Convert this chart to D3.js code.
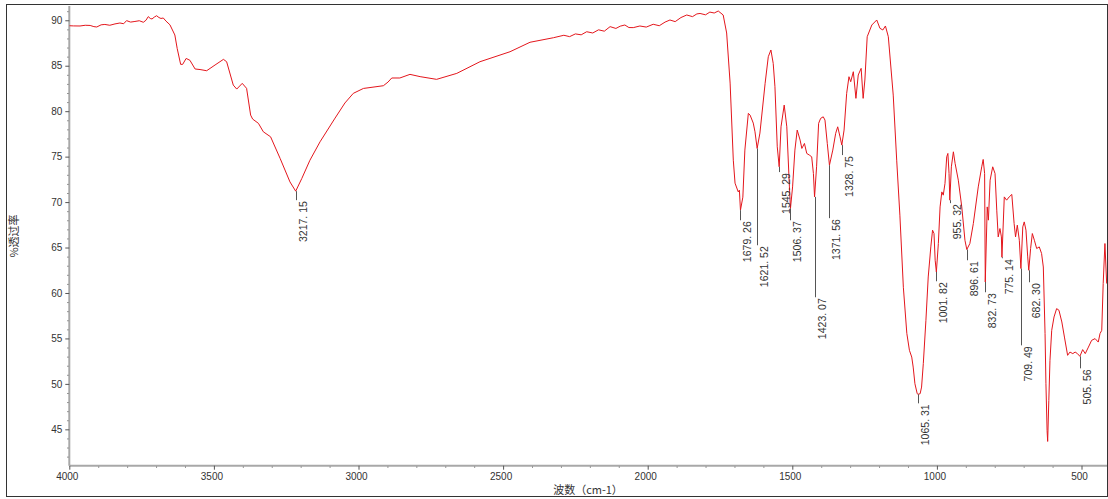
<!DOCTYPE html>
<html><head><meta charset="utf-8">
<script src="https://cdn.jsdelivr.net/npm/d3@7"></script>
<style>
html,body{margin:0;padding:0;background:#fff;}
svg{display:block;}
</style></head>
<body>
<svg id="chart" width="1108" height="499"></svg>
<script>
// ---- data ----
const wavenumber = [
4000,3985,3963,3945,3928,3915,3905,3890,3877,3860,3842,3825,3812,3802,3788,3773,3758,3744,3735,3727,3720,3714,3706,3698,3690,3683,3675,3666,3652,3635,3627,3615,3608,3596,3583,3565,3548,3525,3496,3467,3456,3433,3421,3402,3387,3373,3366,3346,3329,3304,3271,3237,3217.15,3196,3168,3133,3081,3047,3018,2983,2914,2898,2885,2857,2822,2787,2730,2660,2580,2476,2407,2326,2290,2270,2250,2230,2211,2190,2170,2150,2130,2110,2095,2079,2065,2050,2027,2005,1981,1960,1940,1923,1905,1885,1865,1845,1830,1819,1800,1785,1770,1756,1739,
1727,1715,1704,1698,1687,1683,1679.26,1671,1664,1652,1646,1635,1629,1621.52,1612,1594,1583,1574,1566,1560,1552,1545.29,1539,1528,1519,1510,1506.37,1499,1491,1483,1473,1467,1458,1450,1441,1433,1427,1423.07,1416,1409,1402,1393,1387,1379,1371.56,1360,1350,1343,1335,1328.75,1321,1312,1304,1298,1289,1280,1272,1262,1255,1249,1241,1225,1208,1197,1187,1178,1168,1151,1139,1128,1116,1104,1095,1087,1082,1076,1068,1065.31,1058,1053,1047,1038,1030,1021,1015,1010,1006,1001.82,995,989,983,978,972,966,962,958,955.32,950,943,937,926,914,903,896.61,886,874,857,845,840,835,832.73,826,822,816,807,799,793,788,782,777,775.14,767,759,750,741,733,728,722,715,709.49,703,698,692,686,682.30,676,670,663,655,646,638,632,626,623,619,617,613,609,603,595,586,578,568,559,548,540,530,522,514,505.56,496,487,476,465,453,442,436,430,425,419,413
];
const transmittance = [
89.4,89.38,89.37,89.45,89.43,89.3,89.26,89.5,89.54,89.45,89.6,89.7,89.62,89.96,89.8,89.87,89.95,89.78,90.0,90.4,90.2,90.14,90.35,90.5,90.3,90.2,90.25,89.92,89.5,88.38,86.9,85.15,85.15,85.8,85.6,84.64,84.58,84.45,85.08,85.7,85.44,82.87,82.43,83.06,82.51,79.57,79.13,78.66,77.73,77.18,74.8,72.22,71.2,72.6,74.6,76.63,79.24,80.9,81.96,82.5,82.8,83.2,83.65,83.65,84.05,83.8,83.5,84.16,85.44,86.54,87.58,88.08,88.35,88.2,88.5,88.4,88.74,88.6,88.95,88.8,89.3,89.1,89.35,89.48,89.2,89.19,89.37,89.25,89.56,89.4,89.8,90.03,89.85,90.3,90.58,90.4,90.7,90.75,90.6,90.9,90.8,91.02,90.58,
88.6,83.09,74.61,72.08,71.12,71.31,69.11,70.54,75.72,79.76,79.57,78.69,77.73,75.9,77.59,83.06,85.99,86.73,85.26,82.69,76.08,73.88,78.28,80.67,78.28,71.67,69.3,71.67,75.72,77.92,76.82,75.9,76.45,75.35,75.17,74.98,73.15,70.57,73.88,78.66,79.21,79.38,79.02,76.45,74.06,75.72,77.56,78.28,77.18,76.27,77.92,81.96,83.79,83.24,84.34,81.41,83.98,84.71,81.41,83.43,88.19,89.48,90.03,89.12,88.93,89.37,88.19,81.77,74.61,68.56,60.63,55.56,53.69,52.95,51.85,50.02,48.92,48.85,48.92,49.65,52.23,56.99,61.76,65.07,66.91,66.54,63.6,62.31,65.44,69.47,71.12,70.76,72.05,74.98,75.35,73.15,70.21,73.88,75.53,74.25,72.41,69.47,65.8,64.78,65.44,67.64,71.67,73.88,74.69,73.15,61.21,69.47,68.01,72.41,73.88,73.15,69.11,66.17,67.09,66.17,63.93,70.57,70.21,70.57,70.84,67.64,66.17,67.46,65.8,62.69,67.27,67.82,66.91,63.97,62.5,64.89,66.54,65.8,64.89,65.07,64.34,62.86,55.53,50.02,44.88,43.67,48.18,52.59,55.89,57.36,58.28,58.1,56.81,55.15,53.14,53.5,53.33,53.5,53.33,53.03,53.77,53.33,54.05,54.79,54.98,54.6,55.53,55.89,61.04,65.44,61.04
];
const peakLabels = [3217.15,1679.26,1621.52,1545.29,1506.37,1423.07,1371.56,1328.75,1065.31,1001.82,955.32,896.61,832.73,775.14,709.49,682.30,505.56];
const labelEnds  = [70.21,68.0,65.25,73.3,68.0,59.53,68.23,75.17,47.86,61.29,69.88,63.6,60.08,63.82,54.24,61.18,51.71];
const xMajorTicks = [4000,3500,3000,2500,2000,1500,1000,500];
const yMajorTicks = [45,50,55,60,65,70,75,80,85,90];
const xTitle = "波数（cm-1）";
const yTitle = "%透过率";

// ---- layout ----
const svg = d3.select("#chart");
const pLeft = 69.3, pTop = 6, pBottom = 465.7, pRight = 1107;
const x = d3.scaleLinear().domain([4000, 400]).range([pLeft, pLeft + 3600 * 0.2892]);
const y = d3.scaleLinear().domain([41, 91.57]).range([pBottom, pTop]);

// frame
svg.append("rect").attr("x", 6.5).attr("y", 4.5).attr("width", 1101).attr("height", 492)
  .attr("fill", "#fff").attr("stroke", "#333").attr("stroke-width", 1);

svg.append("clipPath").attr("id", "clip").append("rect")
  .attr("x", pLeft).attr("y", pTop).attr("width", pRight - pLeft).attr("height", pBottom - pTop);

// axes
const font = "'Liberation Sans', Arial, sans-serif";
const xMinor = d3.range(3900, 400, -100).filter(v => v % 500 !== 0);
const yMinor = d3.range(42, 92).filter(v => v % 5 !== 0);

const gxMinor = svg.append("g").attr("transform", `translate(0,${pBottom})`)
  .call(d3.axisBottom(x).tickValues(xMinor).tickSize(2).tickSizeOuter(0).tickFormat(""));
const gyMinor = svg.append("g").attr("transform", `translate(${pLeft},0)`)
  .call(d3.axisLeft(y).tickValues(yMinor).tickSize(2).tickSizeOuter(0).tickFormat(""));
[gxMinor, gyMinor].forEach(g => { g.select(".domain").remove(); g.selectAll("line").attr("stroke", "#666"); });

const gx = svg.append("g").attr("transform", `translate(0,${pBottom})`)
  .call(d3.axisBottom(x).tickValues(xMajorTicks).tickSize(4).tickSizeOuter(0).tickPadding(3).tickFormat(d3.format("d")));
const gy = svg.append("g").attr("transform", `translate(${pLeft},0)`)
  .call(d3.axisLeft(y).tickValues(yMajorTicks).tickSize(4).tickSizeOuter(0).tickPadding(3).tickFormat(d3.format("d")));
[gx, gy].forEach(g => {
  g.select(".domain").attr("stroke", "#a8a8a8").attr("stroke-width", 2);
  g.selectAll(".tick line").attr("stroke", "#555");
  g.selectAll("text").attr("fill", "#333").style("font-family", font).style("font-size", "10px");
});
gx.select(".domain").attr("d", `M${pLeft},0H${pRight}`);
gy.select(".domain").attr("d", `M0,${pBottom}V${pTop}`);
gx.selectAll("text").attr("dx", "-2.5");

// titles
svg.append("text").attr("x", 588).attr("y", 494).attr("text-anchor", "middle")
  .style("font-family", "'Noto Sans CJK SC', sans-serif").style("font-size", "11px").attr("fill", "#333").text(xTitle);
svg.append("text").attr("transform", "translate(18,236) rotate(-90)").attr("text-anchor", "middle")
  .style("font-family", "'Noto Sans CJK SC', sans-serif").style("font-size", "11px").attr("fill", "#333").text(yTitle);

// spectrum
const data = wavenumber.map((w, i) => ({w, t: transmittance[i]}));
svg.append("path").datum(data).attr("clip-path", "url(#clip)")
  .attr("fill", "none").attr("stroke", "#e3161c").attr("stroke-width", 1)
  .attr("d", d3.line().x(d => x(d.w)).y(d => y(d.t)));

// peak labels
const peakVal = w => { const d = data.find(p => Math.abs(p.w - w) < 0.01); return d ? d.t : 50; };
const fmt = d3.format(".2f");
const gl = svg.append("g");
peakLabels.forEach((w, i) => {
  const px = Math.round(x(w)) + 0.5;
  const y0 = y(peakVal(w)), y1 = y(labelEnds[i]);
  gl.append("line").attr("x1", px).attr("x2", px).attr("y1", y0).attr("y2", y1)
    .attr("stroke", "#555").attr("stroke-width", 1);
  gl.append("text").attr("transform", `translate(${px + 10},${y1 + 1}) rotate(-90)`)
    .attr("text-anchor", "end").style("font-family", font).style("font-size", "10.5px")
    .attr("fill", "#333").text(fmt(w).replace(".", ". "));
});
</script>
</body></html>
